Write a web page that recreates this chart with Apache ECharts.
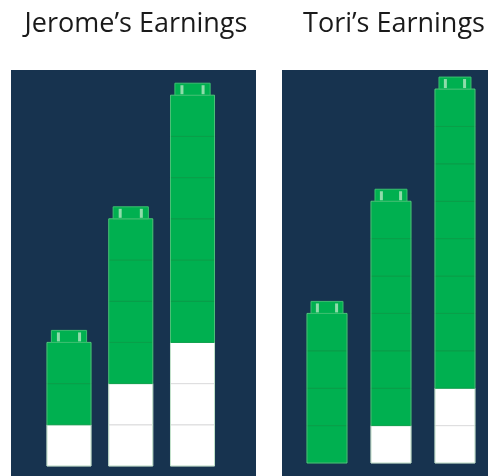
<!DOCTYPE html>
<html lang="en" style="height: 100%">
<head>
    <meta charset="utf-8">
    <title>Earnings</title>
    <script src="https://cdn.jsdelivr.net/npm/echarts@6/dist/echarts.min.js"></script>
</head>
<body style="height: 100%; margin: 0; background: #fff">
<div id="container" style="width: 488px; height: 476px;"></div>
<script type="text/javascript">
    // number of cubes in each tower (white base + green top)
    const weeks = [0, 1, 2];
    const jeromeWhite = [1, 2, 3];
    const jeromeGreen = [2, 4, 6];
    const toriWhite = [0, 1, 2];
    const toriGreen = [4, 6, 8];
    const titles = ['Jerome\u2019s Earnings', 'Tori\u2019s Earnings'];

    const navy = '#17334f';
    const green = '#00b050';

    function rows(white, green) {
        return weeks.map(function (w, i) {
            return [w, white[i], green[i]];
        });
    }

    function makeRender(barW) {
        return function (params, api) {
            var x = api.value(0);
            var nw = api.value(1);
            var ng = api.value(2);
            var w = api.size([barW, 0])[0];
            var children = [];
            for (var k = 0; k < nw + ng; k++) {
                var p0 = api.coord([x, k]);
                var p1 = api.coord([x, k + 1]);
                var isWhite = k < nw;
                children.push({
                    type: 'rect',
                    shape: {x: p0[0] - w / 2, y: p1[1], width: w, height: p0[1] - p1[1]},
                    style: {
                        fill: isWhite ? '#ffffff' : green,
                        stroke: isWhite ? '#dedede' : '#0a9f49',
                        lineWidth: 1
                    }
                });
            }
            // outline of whole tower
            var b = api.coord([x, 0]);
            var t = api.coord([x, nw + ng]);
            children.push({
                type: 'rect',
                shape: {x: b[0] - w / 2, y: t[1], width: w, height: b[1] - t[1]},
                style: {fill: 'none', stroke: 'rgba(160,230,180,0.45)', lineWidth: 1}
            });
            // cap on top
            var cw = w * 0.8, ch = 12;
            children.push({
                type: 'rect',
                shape: {x: t[0] - cw / 2, y: t[1] - ch, width: cw, height: ch},
                style: {fill: green, stroke: '#3cc070', lineWidth: 1}
            });
            [-0.3, 0.3].forEach(function (f) {
                children.push({
                    type: 'rect',
                    shape: {x: t[0] + f * cw - 1.5, y: t[1] - ch + 2, width: 3, height: ch - 3},
                    style: {fill: '#8fdcaa'}
                });
            });
            return {type: 'group', children: children};
        };
    }

    var chart = echarts.init(document.getElementById('container'), null, {renderer: 'canvas'});

    var titleStyle = {fontFamily: 'Open Sans', fontSize: 27, fontWeight: 'normal', color: '#1a1a1a'};

    var option = {
        animation: false,
        title: [
            {text: titles[0], left: 131, top: 6, textAlign: 'center', textStyle: titleStyle},
            {text: titles[1], left: 389, top: 6, textAlign: 'center', textStyle: titleStyle}
        ],
        grid: [
            {left: 11, top: 70, width: 245, height: 406, show: true, backgroundColor: navy, borderWidth: 0},
            {left: 282, top: 70, width: 206, height: 406, show: true, backgroundColor: navy, borderWidth: 0}
        ],
        xAxis: [
            {type: 'value', gridIndex: 0, min: -0.939, max: 3.028, show: false},
            {type: 'value', gridIndex: 1, min: -0.703, max: 2.516, show: false}
        ],
        yAxis: [
            {type: 'value', gridIndex: 0, min: -0.243, max: 9.612, show: false},
            {type: 'value', gridIndex: 1, min: -0.348, max: 10.51, show: false}
        ],
        series: [
            {
                type: 'custom', xAxisIndex: 0, yAxisIndex: 0, clip: false,
                encode: {x: 0, y: 2},
                renderItem: makeRender(0.713),
                data: rows(jeromeWhite, jeromeGreen)
            },
            {
                type: 'custom', xAxisIndex: 1, yAxisIndex: 1, clip: false,
                encode: {x: 0, y: 2},
                renderItem: makeRender(0.625),
                data: rows(toriWhite, toriGreen)
            }
        ]
    };

    chart.setOption(option);
    window.addEventListener('resize', chart.resize);
</script>
</body>
</html>
